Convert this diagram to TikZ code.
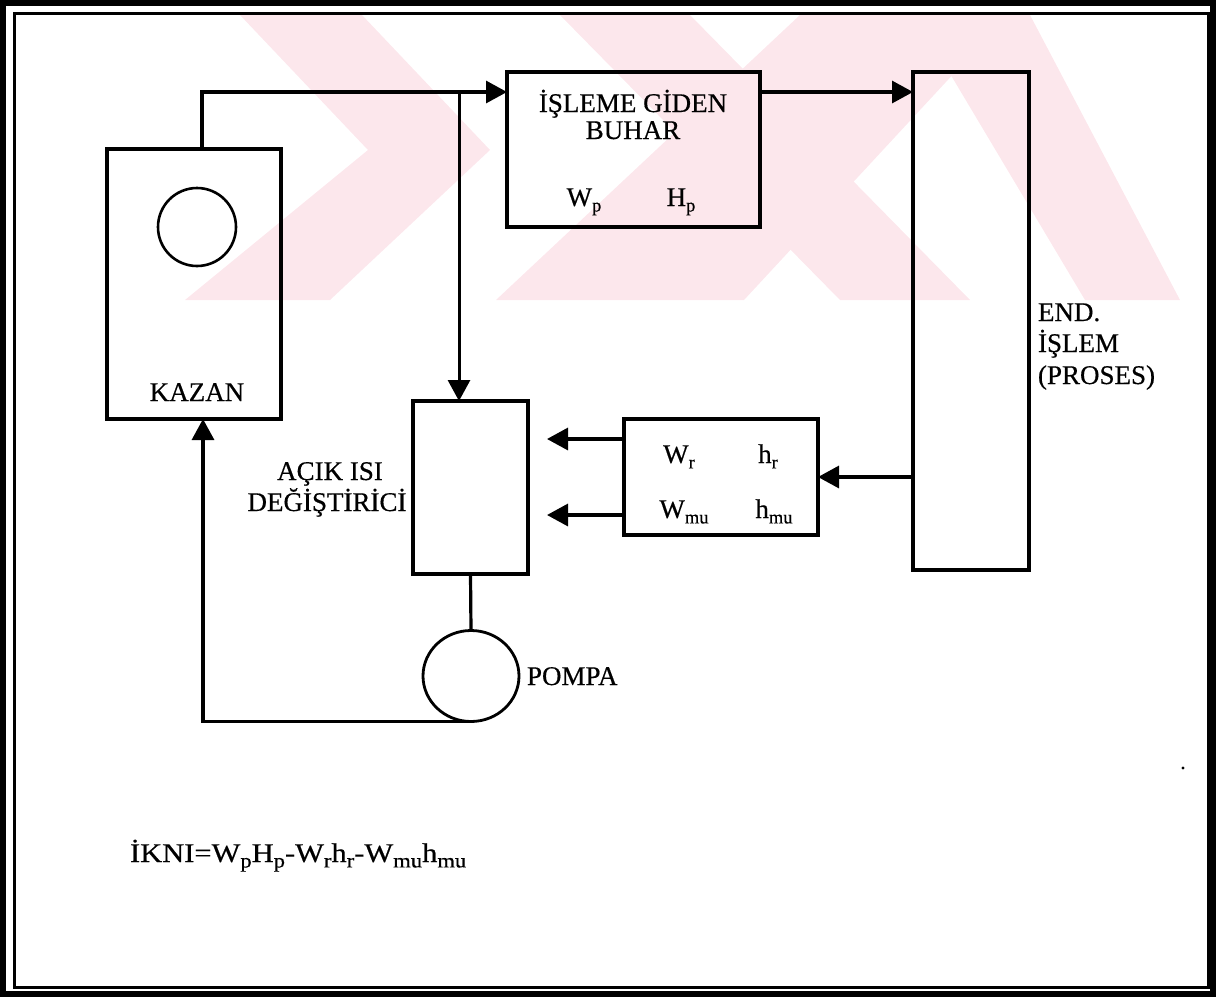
\documentclass[tikz,border=0pt]{standalone}
\usepackage{fontspec}
\setmainfont{Liberation Serif}[FakeBold=0.5]
\usetikzlibrary{arrows.meta,shapes.geometric}
\definecolor{wm}{RGB}{252,231,236}
\newcommand\sbs[1]{\raisebox{-0.2em}{\fontsize{18.5}{18.5}\selectfont #1}}
\newcommand\fsbs[1]{\raisebox{-0.2em}{\fontsize{20}{20}\selectfont #1}}
\begin{document}
\begin{tikzpicture}[x=1pt,y=-1pt,
  every node/.style={inner sep=0pt, outer sep=0pt},
  lab/.style={font=\fontsize{27}{31}\selectfont, anchor=base},
  labw/.style={font=\fontsize{27}{31}\selectfont, anchor=base west},
  box/.style={draw, rectangle, line width=3.2pt},
  conn/.style={line width=3.2pt},
  arr/.style={conn, -{Triangle[length=21pt,width=22pt]}}]
\useasboundingbox (0,0) rectangle (1216,997);
% watermark
\begin{scope}
\clip (14,15) rectangle (1203,300);
\fill[wm] (240,15) -- (362,15) -- (490,150) -- (330,300) -- (185,300) -- (368,150) -- cycle;
\fill[wm] (496,300) -- (744,300) -- (1008,15) -- (800,15) -- cycle;
\fill[wm] (560,15) -- (690,15) -- (970,300) -- (840,300) -- cycle;
\fill[wm] (915,15) -- (1030,15) -- (1180,300) -- (1085,300) -- cycle;
\end{scope}
% frame
\draw[line width=6pt] (3,3) rectangle (1213,994);
\draw[line width=3pt] (14.5,13.5) rectangle (1208.5,987.5);
% nodes
\node[box, minimum width=174pt, minimum height=270pt] (kazan) at (194,284) {};
\node[draw, circle, line width=2.6pt, minimum size=78pt] (drum) at (197,227) {};
\node[lab] (kazanl) at (197,401) {KAZAN};
\node[box, minimum width=253pt, minimum height=155pt] (isleme) at (633.5,149.5) {};
\node[lab] (is1) at (633,112) {İŞLEME GİDEN};
\node[lab] (is2) at (633,139) {BUHAR};
\node[lab] (wp) at (584,206) {W\sbs{p}};
\node[lab] (hp) at (681,206) {H\sbs{p}};
\node[box, minimum width=116pt, minimum height=498pt] (end) at (971,321) {};
\node[labw] (e1) at (1038,321) {END.};
\node[labw] (e2) at (1038,352) {İŞLEM};
\node[labw] (e3) at (1038,384) {(PROSES)};
\node[box, minimum width=115pt, minimum height=173pt] (acik) at (470.5,487.5) {};
\node[lab] (a1) at (330,480) {AÇIK ISI};
\node[lab] (a2) at (327,511) {DEĞİŞTİRİCİ};
\node[box, minimum width=194pt, minimum height=116pt] (wr) at (721,477) {};
\node[lab] (wrl) at (679,463) {W\sbs{r}};
\node[lab] (hrl) at (768,463) {h\sbs{r}};
\node[lab] (wmul) at (684,518) {W\sbs{mu}};
\node[lab] (hmul) at (774,518) {h\sbs{mu}};
\node[draw, ellipse, line width=2.8pt, minimum width=96pt, minimum height=91pt] (pompa) at (471,676) {};
\node[labw] (pompal) at (527,685) {POMPA};
\node[anchor=base west, font=\fontsize{27}{31}\selectfont] (formula) at (130,862)
  {\scalebox{1.13}[1]{İKNI=W\fsbs{p}H\fsbs{p}-W\fsbs{r}h\fsbs{r}-W\fsbs{mu}h\fsbs{mu}}};
\fill (1183,768) circle (1.6pt);
% connectors
\coordinate (j) at (459,92);
\coordinate (kx) at (202,0);
\coordinate (rx) at (203,0);
\coordinate (t1) at (547,439);
\coordinate (t2) at (547,515);
\draw[conn] (kazan.north -| kx) |- (j);
\draw[conn, line width=3pt, -{Triangle[length=21pt,width=22pt]}] (j) -- (j |- acik.north);
\draw[arr] (j) -- (isleme.west |- j);
\draw[arr] (isleme.east |- j) -- (end.west |- j);
\draw[arr] (end.west |- wr.east) -- (wr.east);
\draw[arr] (wr.west |- t1) -- (t1);
\draw[arr] (wr.west |- t2) -- (t2);
\draw[conn] (acik.south) -- (pompa.north);
\draw[arr] (pompa.south) -| (kazan.south -| rx);
\end{tikzpicture}
\end{document}
